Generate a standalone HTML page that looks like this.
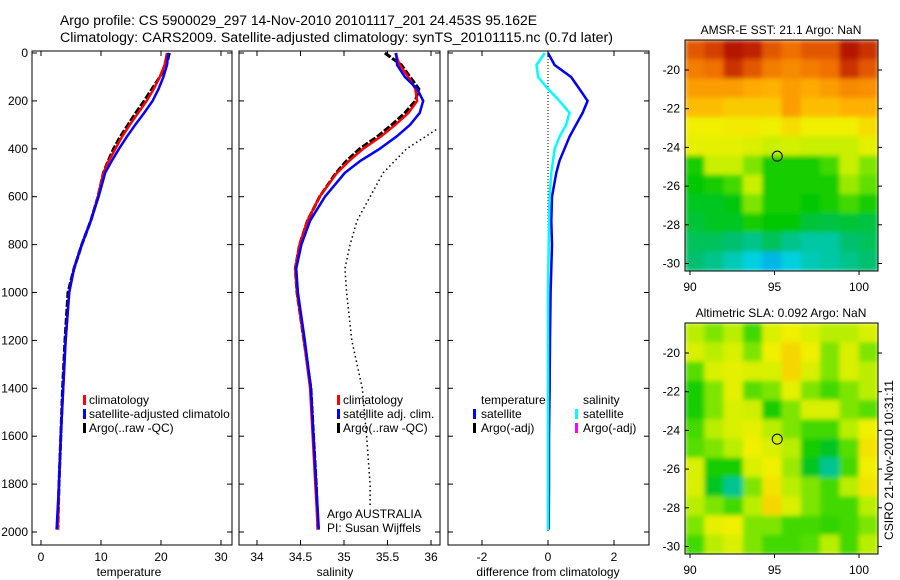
<!DOCTYPE html>
<html><head><meta charset="utf-8">
<style>
html,body{margin:0;padding:0;background:#fff;}
svg{display:block;font-family:"Liberation Sans",sans-serif;}
text{fill:#000;}
</style></head>
<body>
<svg id="fig" width="900" height="580" viewBox="0 0 900 580" xmlns="http://www.w3.org/2000/svg">
<defs>
<filter id="blur" x="0" y="0" width="1" height="1"><feGaussianBlur stdDeviation="2.5" edgeMode="duplicate"/></filter>
<clipPath id="c1"><rect x="685" y="40" width="193" height="231"/></clipPath>
<clipPath id="c2"><rect x="685" y="323" width="193" height="231"/></clipPath>
</defs>
<text x="60" y="25" font-size="13.5" textLength="477" lengthAdjust="spacingAndGlyphs">Argo profile: CS 5900029_297 14-Nov-2010 20101117_201 24.453S 95.162E</text>
<text x="60" y="42" font-size="13.5" textLength="553" lengthAdjust="spacingAndGlyphs">Climatology: CARS2009. Satellite-adjusted climatology: synTS_20101115.nc (0.7d later)</text>
<g id="g"></g>
</svg>
<script>
// ---- profile data ----
const depth   = [0,50,100,150,200,250,300,350,400,450,500,600,700,800,900,1000,1200,1400,1600,1800,1990];
const tClim   = [21.0,20.6,19.8,18.8,17.6,16.2,14.8,13.5,12.4,11.3,10.4,9.5,8.3,6.8,5.5,4.7,4.1,3.7,3.3,3.0,2.8];
const tSat    = [21.2,21.0,20.4,19.6,18.6,17.2,15.7,14.3,13.0,11.8,10.7,9.6,8.3,6.8,5.5,4.7,4.1,3.7,3.3,3.0,2.6];
const tArgo   = [21.4,20.9,19.8,18.5,17.2,15.8,14.5,13.2,12.1,11.2,10.4,9.5,8.3,6.8,5.5,4.5,4.0,3.6,3.3,3.0,2.8];
const sClim   = [35.59,35.64,35.74,35.82,35.84,35.74,35.59,35.42,35.22,35.06,34.92,34.72,34.58,34.49,34.44,34.46,34.54,34.61,34.64,34.67,34.70];
const sSat    = [35.60,35.61,35.70,35.84,35.91,35.87,35.76,35.60,35.41,35.19,35.01,34.78,34.61,34.51,34.45,34.47,34.55,34.62,34.65,34.68,34.71];
const sArgo   = [35.47,35.66,35.76,35.86,35.82,35.70,35.55,35.38,35.18,35.03,34.91,34.72,34.58,34.49,34.44,34.46,34.54,34.62,34.65,34.68,34.70];
const dotDepth= [320,400,500,600,700,800,900,1000,1200,1400,1600,1800,1900];
const sDot    = [36.06,35.72,35.45,35.30,35.15,35.07,35.01,35.03,35.09,35.21,35.26,35.30,35.30];
const dTemp   = [0.0,0.2,0.7,0.95,1.2,1.05,0.85,0.65,0.5,0.35,0.25,0.12,0.1,0.12,0.1,0.08,0.06,0.05,0.03,0.03,0.02];
const dSal    = [-0.1,-0.35,-0.3,0.0,0.35,0.65,0.55,0.35,0.2,0.15,0.1,0.05,0.03,0.02,0.01,0.0,0.0,0.0,0.0,0.0,0.0];
const tTicks  = [0,10,20,30];
const sTicks  = [34,34.5,35,35.5,36];
const dTicks  = [-2,0,2];
const zTicks  = [0,200,400,600,800,1000,1200,1400,1600,1800,2000];
// ---- map data (values 0..1 on colour scale) ----
const sstGrid = [
[0.85,0.88,0.95,0.92,0.85,0.82,0.85,0.85,0.95,0.9],
[0.8,0.82,0.9,0.85,0.8,0.78,0.8,0.82,0.9,0.85],
[0.75,0.75,0.75,0.73,0.72,0.75,0.73,0.75,0.78,0.77],
[0.7,0.7,0.68,0.68,0.68,0.75,0.7,0.7,0.72,0.72],
[0.62,0.62,0.63,0.63,0.62,0.65,0.62,0.62,0.62,0.65],
[0.6,0.6,0.6,0.58,0.55,0.57,0.55,0.55,0.55,0.6],
[0.4,0.55,0.55,0.5,0.4,0.4,0.4,0.45,0.55,0.5],
[0.38,0.4,0.45,0.55,0.4,0.4,0.4,0.4,0.52,0.48],
[0.35,0.35,0.37,0.5,0.4,0.4,0.38,0.4,0.45,0.4],
[0.33,0.35,0.35,0.4,0.38,0.38,0.33,0.32,0.33,0.32],
[0.3,0.3,0.28,0.25,0.3,0.25,0.22,0.22,0.28,0.3],
[0.28,0.25,0.2,0.15,0.12,0.15,0.2,0.22,0.25,0.28]];
const slaGrid = [
[0.54,0.5,0.54,0.45,0.58,0.62,0.58,0.54,0.54,0.58],
[0.58,0.54,0.58,0.5,0.62,0.66,0.62,0.5,0.58,0.5],
[0.47,0.58,0.6,0.58,0.58,0.66,0.58,0.5,0.58,0.54],
[0.4,0.5,0.6,0.47,0.5,0.6,0.5,0.45,0.5,0.54],
[0.4,0.5,0.58,0.56,0.4,0.5,0.58,0.58,0.5,0.47],
[0.45,0.54,0.58,0.6,0.54,0.5,0.45,0.45,0.54,0.62],
[0.47,0.5,0.54,0.62,0.58,0.54,0.4,0.35,0.47,0.64],
[0.58,0.4,0.4,0.58,0.62,0.52,0.35,0.24,0.45,0.62],
[0.58,0.35,0.24,0.5,0.64,0.54,0.5,0.45,0.54,0.64],
[0.54,0.5,0.45,0.54,0.66,0.58,0.5,0.45,0.45,0.54],
[0.5,0.6,0.62,0.5,0.5,0.45,0.45,0.43,0.45,0.5],
[0.45,0.54,0.58,0.5,0.45,0.45,0.47,0.54,0.45,0.54]];
const latTicks = [-20,-22,-24,-26,-28,-30];
const lonTicks = [90,95,100];
const argoLon = 95.162, argoLat = -24.453;

const NS="http://www.w3.org/2000/svg";
const G=document.getElementById('g');
function mk(tag,attrs,parent){const e=document.createElementNS(NS,tag);for(const k in attrs)e.setAttribute(k,attrs[k]);(parent||G).appendChild(e);return e;}
function txt(s,x,y,size,anchor,parent){const t=mk('text',{x:x,y:y,'font-size':size,'text-anchor':anchor||'start'},parent);t.textContent=s;return t;}

const Y=d=>53+d*0.2395;
const TOP=51,BOT=545;
const panels=[
 {name:'temperature-panel',x0:32,x1:232,sx:v=>41+v*6,ticks:tTicks,label:'temperature',lx:129},
 {name:'salinity-panel',x0:239,x1:440,sx:v=>257+(v-34)*87,ticks:sTicks,label:'salinity',lx:335},
 {name:'difference-panel',x0:448,x1:649,sx:v=>548+v*33,ticks:dTicks,label:'difference from climatology',lx:548}];
panels.forEach((p,i)=>{
  const g=mk('g',{});
  
  
  mk('rect',{x:p.x0,y:TOP,width:p.x1-p.x0,height:BOT-TOP,fill:'#fff',stroke:'#000','stroke-width':1},g);
  zTicks.forEach(z=>{
    mk('line',{x1:p.x0,x2:p.x0+5,y1:Y(z),y2:Y(z),stroke:'#000'},g);
    mk('line',{x1:p.x1,x2:p.x1-5,y1:Y(z),y2:Y(z),stroke:'#000'},g);
    if(i===0){const t=txt(String(z),28,Y(z)+4,12,'end',g);}
  });
  p.ticks.forEach(v=>{
    const x=p.sx(v);
    mk('line',{x1:x,x2:x,y1:BOT,y2:BOT-5,stroke:'#000'},g);
    mk('line',{x1:x,x2:x,y1:TOP,y2:TOP+5,stroke:'#000'},g);
    const t=txt(String(v),x,561,12,'middle',g);
    
    
  });
  const l=txt(p.label,p.lx,576,12,'middle',g);
  
  
});
function line(xs,ds,sx,color,w,dash,name){
  const pts=xs.map((v,i)=>sx(v).toFixed(1)+','+Y(ds[i]).toFixed(1)).join(' ');
  const e=mk('polyline',{points:pts,fill:'none',stroke:color,'stroke-width':w});
  if(dash)e.setAttribute('stroke-dasharray',dash);
  
  
}
const P=panels;
line(tArgo,depth,P[0].sx,'#000',3,'7,2','temp-argo-line');
line(tClim,depth,P[0].sx,'#f00',2.5,null,'temp-climatology-line');
line(tSat,depth,P[0].sx,'#00f',2.5,null,'temp-satellite-line');
line(sDot,dotDepth,P[1].sx,'#000',1.5,'1.5,3','salinity-dotted-line');
line(sArgo,depth,P[1].sx,'#000',3,'7,2','sal-argo-line');
line(sClim,depth,P[1].sx,'#f00',2.5,null,'sal-climatology-line');
line(sSat,depth,P[1].sx,'#00f',2.5,null,'sal-satellite-line');
const zl=mk('line',{x1:548,x2:548,y1:Y(0),y2:Y(2000),stroke:'#000','stroke-width':1,'stroke-dasharray':'1,2'});


line(dTemp,depth,P[2].sx,'#0000ee',2.5,null,'diff-temp-satellite-line');
line(dSal,depth,P[2].sx,'#00ffff',2.5,null,'diff-sal-satellite-line');

function legend(items,x,y0,name){
  const g=mk('g',{});
  
  
  items.forEach((it,i)=>{
    const y=y0+i*14;
    if(it[1])mk('rect',{x:x,y:y-5,width:3,height:10,fill:it[1]},g);
    txt(it[0],x+(it[2]||6),y+4,12,'start',g);
  });
}
legend([['climatology','#f00'],['satellite-adjusted climatolo','#00f'],['Argo(..raw -QC)','#000']],83,400,'temperature-legend');
legend([['climatology','#f00'],['satellite adj. clim.','#00f'],['Argo(..raw -QC)','#000']],337,400,'salinity-legend');
legend([['Argo AUSTRALIA',null],['PI: Susan Wijffels',null]],321,514,'argo-credit');
legend([['temperature',null,8],['satellite','#00f',8],['Argo(-adj)','#000',8]],473,400,'diff-temp-legend');
legend([['salinity',null,8],['satellite','#00ffff',8],['Argo(-adj)','#ff00ff',8]],575,400,'diff-sal-legend');

// ---- maps ----
const stops=[[0,[0,80,255]],[0.15,[0,208,224]],[0.28,[0,192,112]],[0.38,[0,200,0]],[0.48,[96,224,0]],[0.55,[200,240,0]],[0.62,[240,240,0]],[0.72,[255,176,0]],[0.82,[240,112,0]],[0.92,[192,32,0]],[1,[160,0,0]]];
function cmap(v){for(let i=1;i<stops.length;i++){if(v<=stops[i][0]){const a=stops[i-1],b=stops[i],t=(v-a[0])/(b[0]-a[0]);return 'rgb('+a[1].map((c,k)=>Math.round(c+(b[1][k]-c)*t)).join(',')+')';}}return 'rgb(160,0,0)';}
function map(grid,top,title,name,clip){
  const x0=685,x1=878,bot=top+231;
  const lonX=v=>690+(v-90)*16.9, latY=v=>top+30+(-20-v)*19.35;
  const g=mk('g',{});
  
  
  const t=txt(title,781,top-6,12,'middle',g);
  
  
  const R=grid.length,C=grid[0].length,cw=(x1-x0)/C,ch=(bot-top)/R;
  const cg=mk('g',{'clip-path':'url(#'+clip+')'},g);
  const bg=mk('g',{filter:'url(#blur)'},cg);
  grid.forEach((row,r)=>row.forEach((v,c)=>{
    const e=mk('rect',{x:(x0+c*cw).toFixed(2),y:(top+r*ch).toFixed(2),width:(cw+0.6).toFixed(2),height:(ch+0.6).toFixed(2),fill:cmap(v)},bg);
    
    
  }));
  mk('rect',{x:x0,y:top,width:x1-x0,height:bot-top,fill:'none',stroke:'#000'},g);
  latTicks.forEach(v=>{const y=latY(v);mk('line',{x1:x0,x2:x0+4,y1:y,y2:y,stroke:'#000'},g);mk('line',{x1:x1,x2:x1+4,y1:y,y2:y,stroke:'#000'},g);txt(String(v),680,y+4,12,'end',g);});
  lonTicks.forEach(v=>{const x=lonX(v);mk('line',{x1:x,x2:x,y1:bot,y2:bot+4,stroke:'#000'},g);txt(String(v),x,bot+20,12,'middle',g);});
  const m=mk('circle',{cx:lonX(argoLon),cy:latY(argoLat),r:5,fill:'none',stroke:'#000','stroke-width':1},g);
  
  
}
map(sstGrid,40,'AMSR-E SST: 21.1 Argo: NaN','sst-map','c1');
map(slaGrid,323,'Altimetric SLA: 0.092 Argo: NaN','sla-map','c2');
const c=txt('CSIRO 21-Nov-2010 10:31:11',0,0,12,'middle');
c.setAttribute('transform','translate(893,460) rotate(-90)');


</script>
</body></html>
